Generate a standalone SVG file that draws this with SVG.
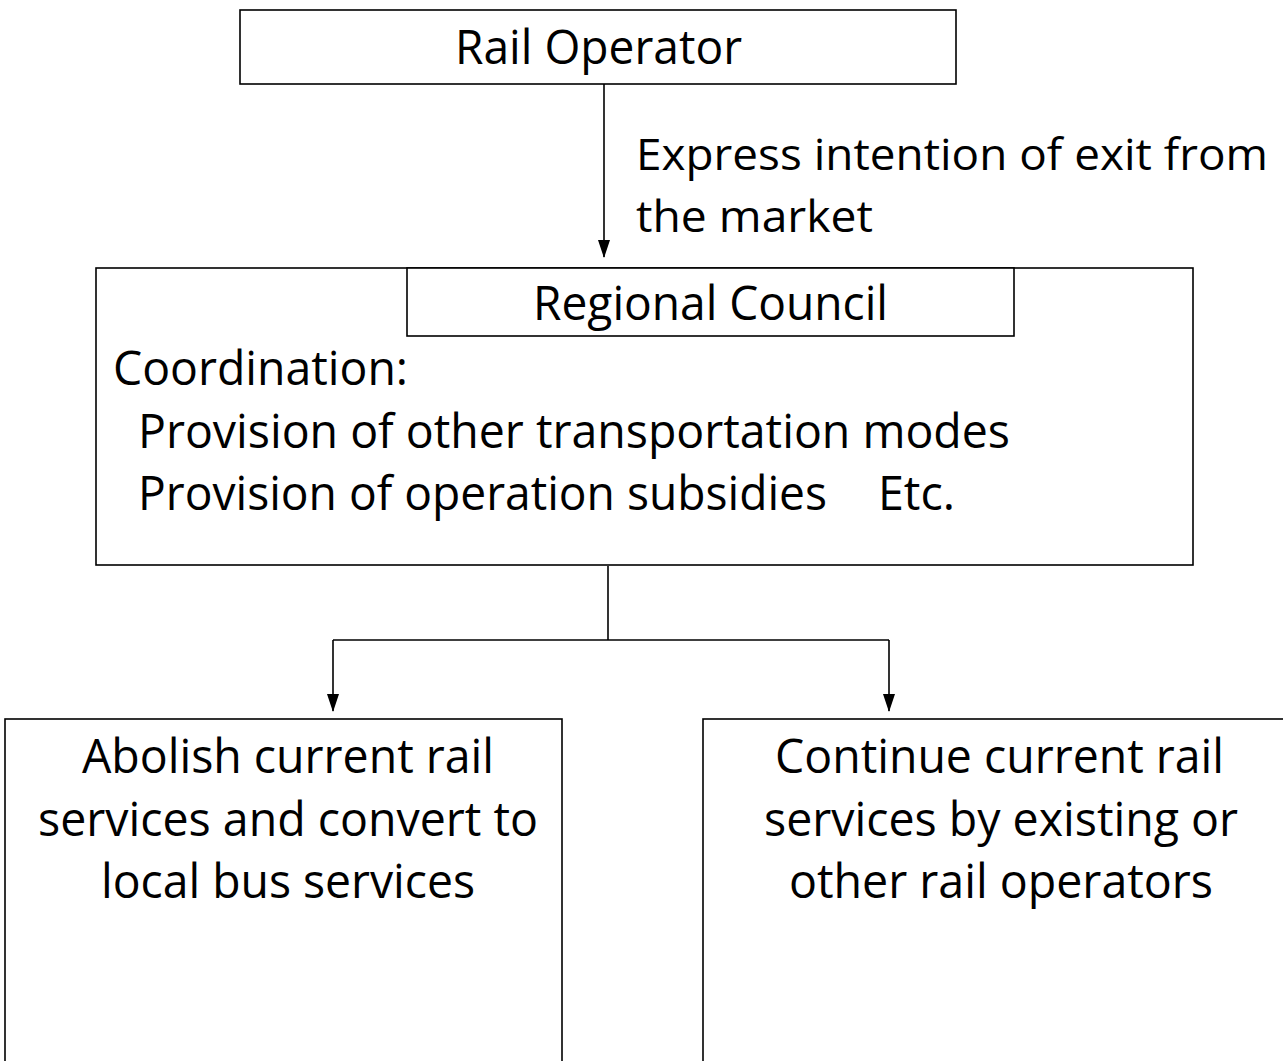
<svg xmlns="http://www.w3.org/2000/svg" width="1283" height="1061" viewBox="0 0 1283 1061">
<style>
.box{fill:#fff;stroke:#000;stroke-width:1.6}
.t{font-family:"Open Sans","Liberation Sans",sans-serif;font-size:48px;fill:#000}
.lbl{font-size:44px}
.line{fill:none;stroke:#000;stroke-width:1.6}
</style>
<defs>
<marker id="ah" markerUnits="userSpaceOnUse" markerWidth="18" markerHeight="14" refX="17" refY="6" orient="auto">
<path d="M0,0 L18,6 L0,12 Z" fill="#000"/>
</marker>
</defs>
<rect width="1283" height="1061" fill="#fff"/>
<g id="connectors">
<line class="line" x1="604" y1="84" x2="604" y2="257" marker-end="url(#ah)"/>
<path class="line" d="M608,566 V640"/>
<path class="line" d="M333,640 H889"/>
<line class="line" x1="333" y1="640" x2="333" y2="711" marker-end="url(#ah)"/>
<line class="line" x1="889" y1="640" x2="889" y2="711" marker-end="url(#ah)"/>
<text class="t lbl" x="636" y="170" textLength="632" lengthAdjust="spacingAndGlyphs">Express intention of exit from</text>
<text class="t lbl" x="636" y="232" textLength="237" lengthAdjust="spacingAndGlyphs">the market</text>
</g>
<g id="rail-operator">
<rect class="box" x="240" y="10" width="716" height="74"/>
<text class="t" x="455" y="64" textLength="287" lengthAdjust="spacingAndGlyphs">Rail Operator</text>
</g>
<g id="regional-council">
<rect class="box" x="96" y="268" width="1097" height="297"/>
<rect class="box" x="407" y="268" width="607" height="68"/>
<text class="t" x="533" y="320" textLength="355" lengthAdjust="spacingAndGlyphs">Regional Council</text>
<text class="t" x="113" y="385" textLength="295" lengthAdjust="spacingAndGlyphs">Coordination:</text>
<text class="t" x="138" y="448" textLength="872" lengthAdjust="spacingAndGlyphs">Provision of other transportation modes</text>
<text class="t" x="138" y="510" textLength="689" lengthAdjust="spacingAndGlyphs">Provision of operation subsidies</text>
<text class="t" x="878" y="510" textLength="77" lengthAdjust="spacingAndGlyphs">Etc.</text>
</g>
<g id="abolish">
<rect class="box" x="5" y="719" width="557" height="360"/>
<text class="t" x="82" y="773" textLength="412" lengthAdjust="spacingAndGlyphs">Abolish current rail</text>
<text class="t" x="38" y="836" textLength="500" lengthAdjust="spacingAndGlyphs">services and convert to</text>
<text class="t" x="101" y="898" textLength="374" lengthAdjust="spacingAndGlyphs">local bus services</text>
</g>
<g id="continue">
<rect class="box" x="703" y="719" width="600" height="360"/>
<text class="t" x="775" y="773" textLength="449" lengthAdjust="spacingAndGlyphs">Continue current rail</text>
<text class="t" x="764" y="836" textLength="474" lengthAdjust="spacingAndGlyphs">services by existing or</text>
<text class="t" x="789" y="898" textLength="424" lengthAdjust="spacingAndGlyphs">other rail operators</text>
</g>
</svg>
